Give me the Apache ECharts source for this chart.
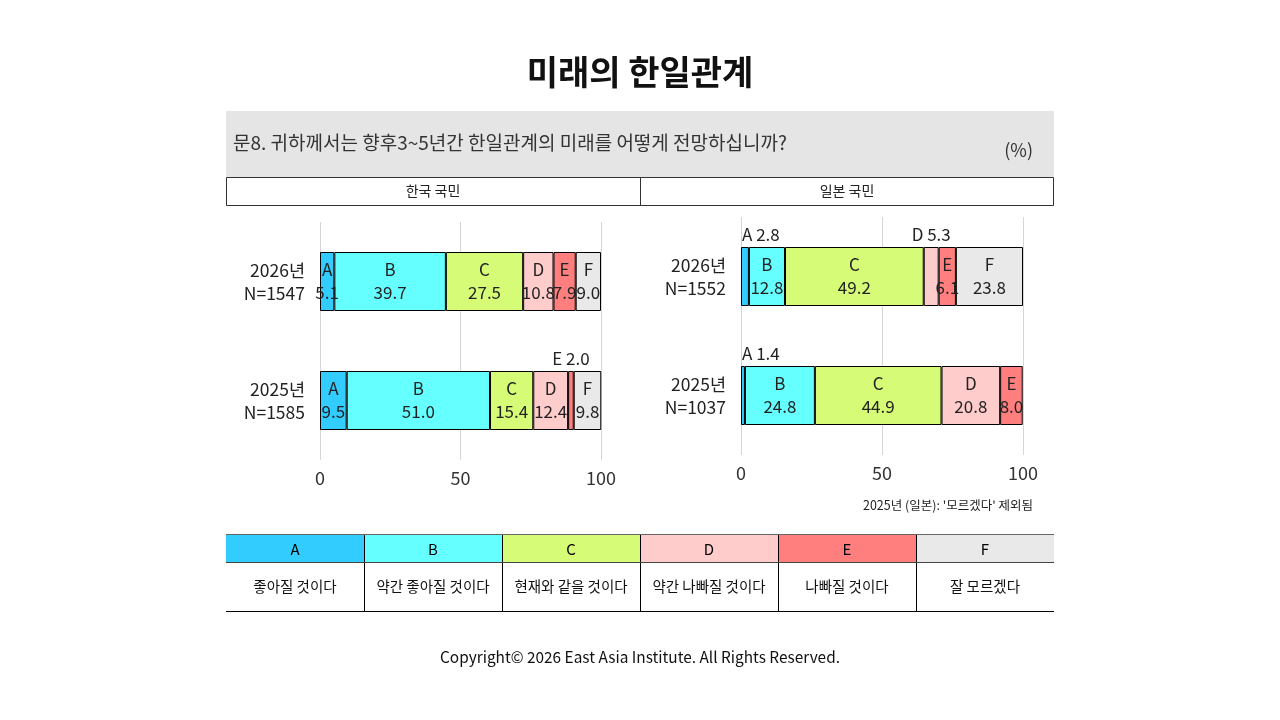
<!DOCTYPE html>
<html>
<head>
<meta charset="utf-8">
<script src="https://cdn.jsdelivr.net/npm/echarts@6/dist/echarts.min.js"></script>
<style>
  html, body { margin: 0; padding: 0; background: #fff; }
  #main { width: 1280px; height: 720px; }
</style>
</head>
<body>
<div id="main"></div>
<script>
// 응답 항목
var letters = ['A', 'B', 'C', 'D', 'E', 'F'];
var meanings = ['좋아질 것이다', '약간 좋아질 것이다', '현재와 같을 것이다', '약간 나빠질 것이다', '나빠질 것이다', '잘 모르겠다'];
var colors = ['#33ccff', '#66ffff', '#d6fb76', '#ffcccc', '#ff7f7f', '#e9e9e9'];

// 한국 국민
var krYears = ['2026년\nN=1547', '2025년\nN=1585'];
var krValues = [
  [5.1, 9.5],
  [39.7, 51.0],
  [27.5, 15.4],
  [10.8, 12.4],
  [7.9, 2.0],
  [9.0, 9.8]
];
var krOutside = ['1:E'];

// 일본 국민 (2025년 '모르겠다' 제외)
var jpYears = ['2026년\nN=1552', '2025년\nN=1037'];
var jpValues = [
  [2.8, 1.4],
  [12.8, 24.8],
  [49.2, 44.9],
  [5.3, 20.8],
  [6.1, 8.0],
  [23.8, null]
];
var jpOutside = ['0:A', '0:D', '1:A'];

var xTicks = [0, 50, 100];

var FONT = '"Noto Sans CJK KR", "Noto Sans", sans-serif';
var ink = '#222';

function makeSeries(values, outside, idx, stack) {
  return letters.map(function (l, i) {
    return {
      name: l,
      type: 'bar',
      stack: stack,
      xAxisIndex: idx,
      yAxisIndex: idx,
      barWidth: 59,
      itemStyle: { color: colors[i], borderColor: '#000', borderWidth: 1 },
      label: {
        show: true,
        position: 'inside',
        color: ink,
        fontFamily: FONT,
        fontSize: 17,
        lineHeight: 23,
        formatter: function (p) { return p.seriesName + '\n' + p.value.toFixed(1); }
      },
      data: values[i].map(function (v, c) {
        var item = { value: v };
        if (outside.indexOf(c + ':' + l) >= 0) {
          item.label = {
            position: l === 'A' ? [1, -1] : 'top',
            distance: 1,
            align: l === 'A' ? 'left' : 'center',
            verticalAlign: 'bottom',
            formatter: function (p) { return p.seriesName + ' ' + p.value.toFixed(1); }
          };
        }
        return item;
      })
    };
  });
}

function xAxisFor(idx) {
  return {
    gridIndex: idx, type: 'value', min: 0, max: 100, interval: 50,
    axisLine: { show: false }, axisTick: { show: false },
    axisLabel: { color: '#333', fontFamily: FONT, fontSize: 18, margin: 9,
      customValues: xTicks },
    splitLine: { lineStyle: { color: '#d6d6d6', width: 1 } }
  };
}
function yAxisFor(idx, cats) {
  return {
    gridIndex: idx, type: 'category', inverse: true, data: cats,
    axisLine: { show: false }, axisTick: { show: false },
    axisLabel: { color: ink, fontFamily: FONT, fontSize: 17.5, lineHeight: 23, margin: 15, align: 'right' }
  };
}

function txt(x, y, text, size, opt) {
  opt = opt || {};
  return {
    type: 'text', x: x, y: y, scaleX: opt.sx || 1,
    style: {
      x: 0, y: 0, text: text, fill: opt.color || ink,
      font: (opt.weight || 'normal') + ' ' + size + 'px ' + FONT,
      align: opt.align || 'center', textAlign: opt.align || 'center',
      verticalAlign: 'middle', textVerticalAlign: 'middle'
    },
    z: 10
  };
}
function line(x1, y1, x2, y2, c) {
  return { type: 'line', shape: { x1: x1, y1: y1, x2: x2, y2: y2 }, style: { stroke: c || '#000', lineWidth: 1 }, z: 5 };
}

var g = [];
g.push(txt(640, 72, '미래의 한일관계', 34, { weight: 'bold', color: '#111' }));
// 질문 박스
g.push({ type: 'rect', shape: { x: 226, y: 111, width: 828, height: 66 }, style: { fill: '#e5e5e5' }, z: 1 });
g.push(txt(233, 143, '문8. 귀하께서는 향후3~5년간 한일관계의 미래를 어떻게 전망하십니까?', 19, { align: 'left', color: '#333' }));
g.push(txt(1033, 150, '(%)', 18, { align: 'right', color: '#333' }));
// 국가 헤더
g.push({ type: 'rect', shape: { x: 226.5, y: 177.5, width: 827, height: 28 }, style: { fill: '#fff', stroke: '#333', lineWidth: 1 }, z: 2 });
g.push(line(640.5, 177.5, 640.5, 205.5, '#333'));
g.push(txt(433, 191, '한국 국민', 14));
g.push(txt(847, 191, '일본 국민', 14));
// 주석
g.push(txt(1033, 505, "2025년 (일본): '모르겠다' 제외됨", 12.5, { align: 'right' }));
// 범례 표
var cw = 138, tx = 226, ty = 534;
letters.forEach(function (l, i) {
  var x = tx + i * cw;
  g.push({ type: 'rect', shape: { x: x, y: ty, width: cw, height: 28 }, style: { fill: colors[i] }, z: 2 });
  g.push(txt(x + cw / 2, ty + 15, l, 15, { color: '#000' }));
  g.push(txt(x + cw / 2, ty + 52, meanings[i], 14.5, { color: '#111' }));
  if (i > 0) g.push(line(x + 0.5, ty, x + 0.5, ty + 77));
});
g.push(line(tx, ty + 0.5, tx + 6 * cw, ty + 0.5, '#666'));
g.push(line(tx, ty + 28.5, tx + 6 * cw, ty + 28.5, '#444'));
g.push(line(tx, ty + 77.5, tx + 6 * cw, ty + 77.5, '#000'));
g.push(txt(640, 657, 'Copyright© 2026 East Asia Institute. All Rights Reserved.', 15.4, { color: '#111' }));

var chart = echarts.init(document.getElementById('main'), null, { renderer: 'canvas' });
chart.setOption({
  animation: false,
  backgroundColor: '#fff',
  textStyle: { fontFamily: FONT },
  graphic: g,
  grid: [
    { left: 320, width: 281, top: 222, height: 238 },
    { left: 741, width: 282, top: 217, height: 238 }
  ],
  xAxis: [xAxisFor(0), xAxisFor(1)],
  yAxis: [yAxisFor(0, krYears), yAxisFor(1, jpYears)],
  series: makeSeries(krValues, krOutside, 0, 'kr').concat(makeSeries(jpValues, jpOutside, 1, 'jp'))
});
</script>
</body>
</html>
